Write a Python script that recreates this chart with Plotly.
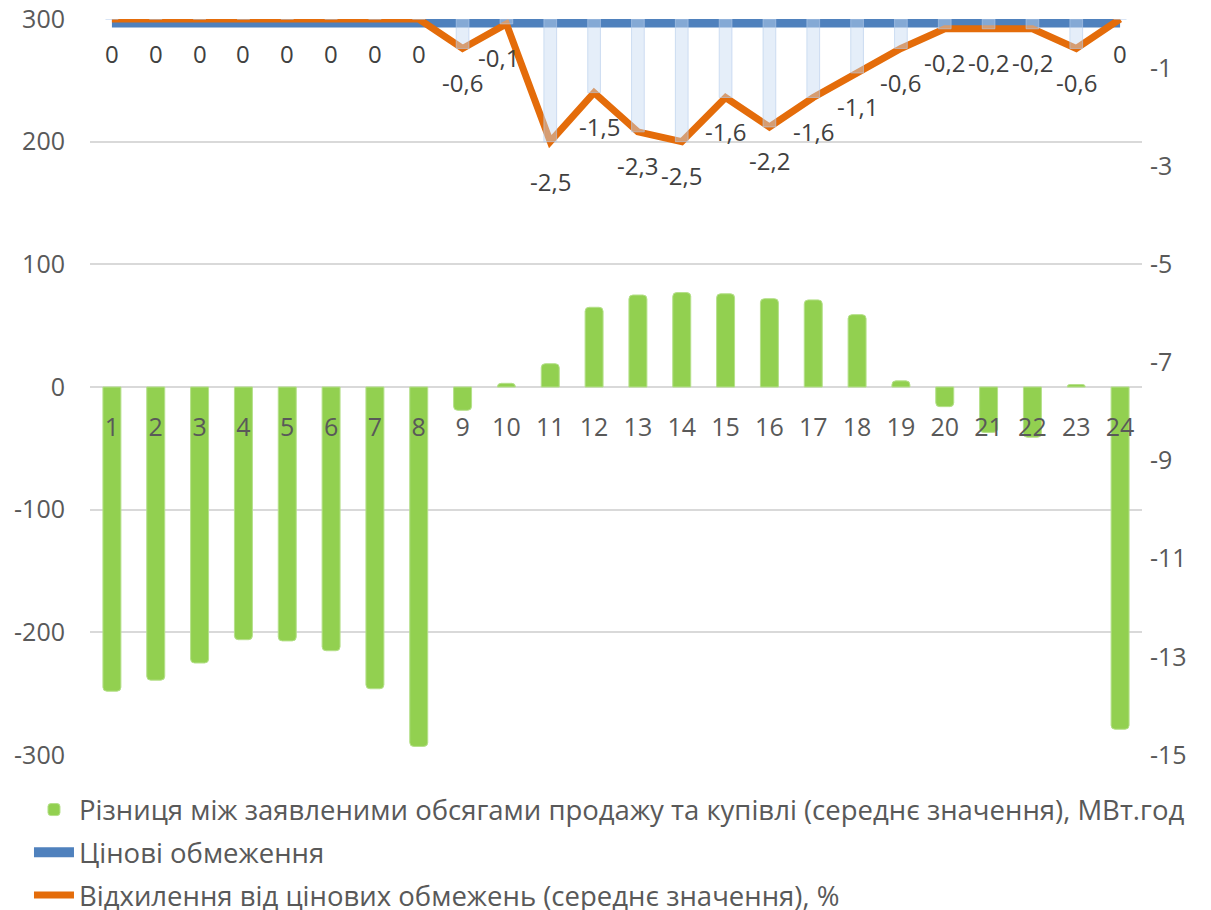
import plotly.graph_objects as go

# hours of the day
hours = list(range(1, 25))

# difference between declared sale and purchase volumes, MWh (left axis)
volume_diff = [-248, -239, -225, -206, -207, -215, -246, -293, -19, 3, 19, 65,
               75, 77, 76, 72, 71, 59, 5, -16, -37, -41, 2, -279]

# price limits (right axis) and deviation from them, %
price_limits = [0] * 24
deviation = [0, 0, 0, 0, 0, 0, 0, 0, -0.6, -0.1, -2.5, -1.5,
             -2.3, -2.5, -1.6, -2.2, -1.6, -1.1, -0.6, -0.2, -0.2, -0.2, -0.6, 0]

left_ticks = [-300, -200, -100, 0, 100, 200, 300]
right_ticks = [-15, -13, -11, -9, -7, -5, -3, -1]

name_diff = 'Різниця між заявленими обсягами продажу та купівлі (середнє значення), МВт.год'
name_limits = 'Цінові обмеження'
name_dev = 'Відхилення від цінових обмежень (середнє значення), %'

txt = '#595959'
font_family = 'Open Sans, sans-serif'

fig = go.Figure()

fig.add_trace(go.Bar(x=hours, y=volume_diff, name=name_diff, yaxis='y',
                     width=0.41, marker=dict(color='#92d050', cornerradius=4,
                                             line=dict(color='#b5e08a', width=1)),
                     legendgroup='a'))
fig.add_trace(go.Scatter(x=hours, y=price_limits, name=name_limits, yaxis='y2',
                         mode='lines', line=dict(color='#4f81bd', width=17),
                         legendgroup='b'))
fig.add_trace(go.Scatter(x=hours, y=deviation, name=name_dev, yaxis='y2',
                         mode='lines', line=dict(color='#e46c0a', width=7),
                         legendgroup='c'))
# pale drop bars from the limit down to the deviation
fig.add_trace(go.Bar(x=hours, y=deviation, yaxis='y3', width=0.29, showlegend=False,
                     marker=dict(color='rgba(198,217,241,0.45)',
                                 line=dict(color='rgba(180,204,235,0.6)', width=1)),
                     hoverinfo='skip'))

# data labels for the deviation line (comma decimal separator)
for h, v in zip(hours, deviation):
    label = ('%g' % v).replace('.', ',')
    xs = 0
    ys = -34
    if h == 10:
        xs = -8
    if h == 12:
        xs = 5
    if h == 11:
        ys = -40
    fig.add_annotation(x=h, y=v, xref='x', yref='y2', text=label, showarrow=False,
                       xshift=xs, yshift=ys, font=dict(size=24, color='#404040'))

# the page body adds 8px around the figure, so the figure is 8px smaller
fig.update_layout(
    width=1203, height=902,
    margin=dict(l=82, r=69, t=11, b=155, autoexpand=False),
    paper_bgcolor='white', plot_bgcolor='white',
    font=dict(family=font_family, size=25, color=txt),
    barmode='overlay',
    xaxis=dict(range=[0.5, 24.5], tickmode='array', tickvals=hours,
               ticktext=[str(h) for h in hours], automargin=False,
               anchor='free', position=0.5, showline=False, showgrid=False,
               ticks='', ticklabelstandoff=23, tickfont=dict(size=25, color=txt)),
    yaxis=dict(range=[-300, 300], tickvals=left_ticks,
               ticktext=[str(v) for v in left_ticks], automargin=False,
               ticklabeloverflow='allow',
               showgrid=True, gridcolor='#d9d9d9', gridwidth=1.5, zeroline=True,
               zerolinecolor='#d9d9d9', zerolinewidth=1.5, ticks='', ticklabelstandoff=24),
    yaxis2=dict(range=[-15, 0], tickvals=right_ticks,
                ticktext=[str(v) for v in right_ticks], automargin=False,
                ticklabeloverflow='allow',
                overlaying='y', side='right',
                showgrid=False, zeroline=False, ticks='', ticklabelstandoff=7),
    yaxis3=dict(range=[-15, 0], overlaying='y', visible=False),
    legend=dict(orientation='v', x=-0.058, xanchor='left', y=-0.041, yanchor='top',
                font=dict(size=27.5, color=txt), tracegroupgap=4,
                itemwidth=40),
    showlegend=True,
)

fig.write_html('out.html')
